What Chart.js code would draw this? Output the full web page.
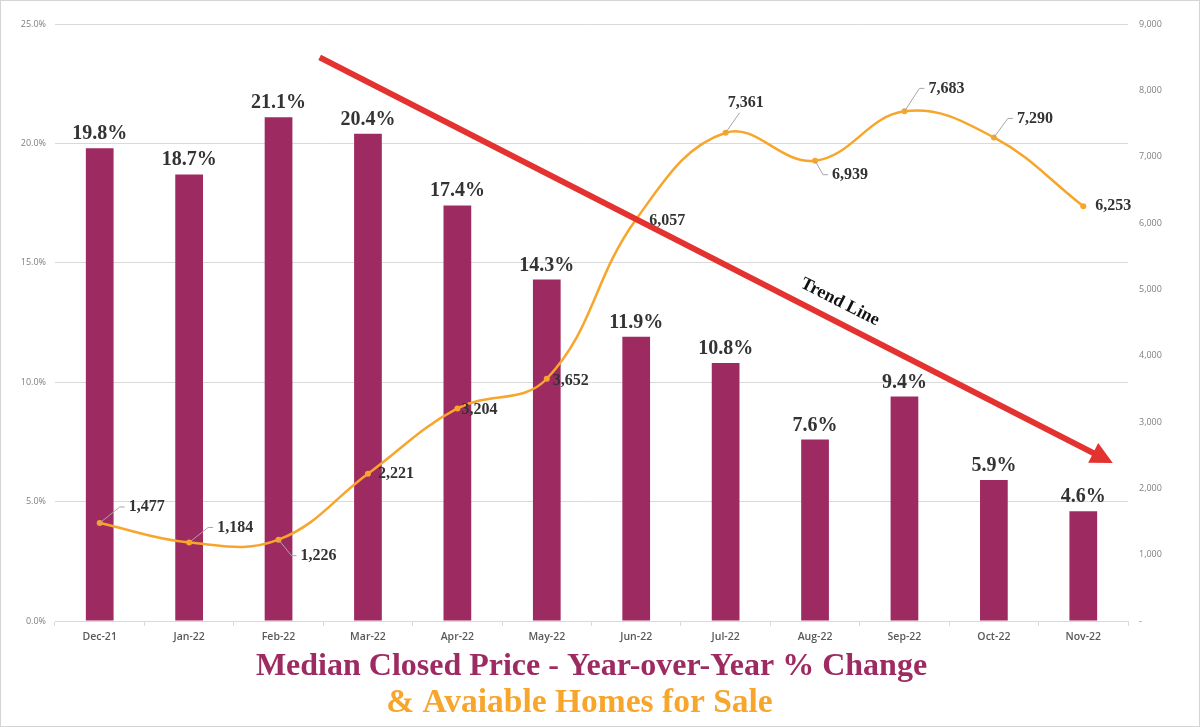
<!DOCTYPE html>
<html>
<head>
<meta charset="utf-8">
<script src="https://cdn.jsdelivr.net/npm/chart.js@4"></script>
<style>
  html, body { margin: 0; padding: 0; background: #fff; }
  #wrap { width: 1200px; height: 727px; }
</style>
</head>
<body>
<div id="wrap"><canvas id="chart" width="1200" height="727"></canvas></div>
<script>
// data
const months = ['Dec-21', 'Jan-22', 'Feb-22', 'Mar-22', 'Apr-22', 'May-22', 'Jun-22', 'Jul-22', 'Aug-22', 'Sep-22', 'Oct-22', 'Nov-22']
const priceChange = [19.8, 18.7, 21.1, 20.4, 17.4, 14.3, 11.9, 10.8, 7.6, 9.4, 5.9, 4.6]
const homesForSale = [1477, 1184, 1226, 2221, 3204, 3652, 6057, 7361, 6939, 7683, 7290, 6253]
const pctMax = 25
const pctStep = 5
const homesMax = 9000
const homesStep = 1000

// hand drawn trend arrow, in (month index, % change) units
const trendFrom = [2.46, 23.6]
const trendTo = [11.33, 6.62]

const maroon = '#9E2A62'
const orange = '#F7A52B'
const serif = '"Liberation Serif", "Times New Roman", serif'

// where each homes label sits relative to its point: [dx, dy, leader]
const homeLabelPos = [
  [47, -16, 'side'], [46, -15, 'side'], [40, 16, 'side'], [28, 0, ''],
  [22, 1, ''], [24, 2, ''], [31, 2, ''], [20, -30, 'under'],
  [35, 14, 'side'], [42, -23, 'side'], [41, -19, 'side'], [30, 0, '']
]

const extras = {
  id: 'extras',
  afterDatasetsDraw(chart) {
    const ctx = chart.ctx
    const x = chart.scales.x, y = chart.scales.y
    ctx.save()

    // trend arrow
    const x0 = x.getPixelForValue(trendFrom[0]), y0 = y.getPixelForValue(trendFrom[1])
    const x1 = x.getPixelForValue(trendTo[0]), y1 = y.getPixelForValue(trendTo[1])
    const ang = Math.atan2(y1 - y0, x1 - x0)
    const head = 22, half = 11
    const bx = x1 - Math.cos(ang) * head, by = y1 - Math.sin(ang) * head
    ctx.strokeStyle = '#E3322F'
    ctx.fillStyle = '#E3322F'
    ctx.lineWidth = 6
    ctx.beginPath()
    ctx.moveTo(x0, y0)
    ctx.lineTo(bx + Math.cos(ang) * 2, by + Math.sin(ang) * 2)
    ctx.stroke()
    ctx.beginPath()
    ctx.moveTo(x1, y1)
    ctx.lineTo(bx + Math.sin(ang) * half, by - Math.cos(ang) * half)
    ctx.lineTo(bx - Math.sin(ang) * half, by + Math.cos(ang) * half)
    ctx.closePath()
    ctx.fill()

    // "Trend Line" text along the arrow
    const t = 0.645
    const tx = x0 + (x1 - x0) * t + Math.sin(ang) * 19
    const ty = y0 + (y1 - y0) * t - Math.cos(ang) * 19
    ctx.translate(tx, ty)
    ctx.rotate(ang)
    ctx.fillStyle = '#111'
    ctx.font = 'bold 18px ' + serif
    ctx.textAlign = 'center'
    ctx.textBaseline = 'middle'
    ctx.fillText('Trend Line', 0, 0)
    ctx.setTransform(1, 0, 0, 1, 0, 0)
    ctx.restore()

    ctx.save()
    // bar labels
    const bars = chart.getDatasetMeta(0).data
    ctx.fillStyle = '#333'
    ctx.font = 'bold 20px ' + serif
    ctx.textAlign = 'center'
    ctx.textBaseline = 'alphabetic'
    bars.forEach((b, i) => {
      ctx.fillText(priceChange[i].toFixed(1) + '%', b.x, b.y - 9)
    })

    // homes labels with leader lines
    const pts = chart.getDatasetMeta(1).data
    ctx.font = 'bold 16px ' + serif
    ctx.textBaseline = 'middle'
    pts.forEach((p, i) => {
      const [dx, dy, leader] = homeLabelPos[i]
      const txt = homesForSale[i].toLocaleString('en-US')
      const w = ctx.measureText(txt).width
      const cx = p.x + dx, cy = p.y + dy
      ctx.strokeStyle = '#a6a6a6'
      ctx.lineWidth = 1
      if (leader === 'side') {
        const ex = cx - w / 2 - 4
        ctx.beginPath()
        ctx.moveTo(p.x, p.y)
        ctx.lineTo(ex - 5, cy)
        ctx.lineTo(ex, cy)
        ctx.stroke()
      } else if (leader === 'under') {
        ctx.beginPath()
        ctx.moveTo(p.x, p.y)
        ctx.lineTo(cx - w / 2 + 12, cy + 10)
        ctx.stroke()
      }
      ctx.fillStyle = '#333'
      ctx.fillText(txt, cx, cy)
    })
    ctx.restore()
  },
  afterDraw(chart) {
    const ctx = chart.ctx
    const area = chart.chartArea
    const mid = (area.left + area.right) / 2
    ctx.save()
    ctx.textAlign = 'center'
    ctx.textBaseline = 'alphabetic'
    ctx.fillStyle = maroon
    ctx.font = 'bold 32px ' + serif
    ctx.fillText('Median Closed Price - Year-over-Year % Change', mid, 675)
    ctx.fillStyle = orange
    ctx.font = 'bold 33.5px ' + serif
    ctx.fillText('& Avaiable Homes for Sale', mid - 12, 712)
    ctx.strokeStyle = '#d4d4d4'
    ctx.lineWidth = 1
    ctx.strokeRect(0.5, 0.5, chart.width - 1, chart.height - 1)
    ctx.restore()
  }
}

const tickFont = { family: '"Open Sans", "Liberation Sans", sans-serif', size: 9 }

new Chart(document.getElementById('chart'), {
  data: {
    labels: months,
    datasets: [{
      type: 'bar',
      label: 'Median Closed Price YoY % Change',
      data: priceChange,
      backgroundColor: maroon,
      barPercentage: 0.31,
      categoryPercentage: 1,
      yAxisID: 'y',
      order: 2
    }, {
      type: 'line',
      label: 'Available Homes for Sale',
      data: homesForSale,
      borderColor: orange,
      backgroundColor: orange,
      borderWidth: 2.5,
      tension: 0.4,
      pointRadius: 3,
      pointBorderWidth: 0,
      yAxisID: 'y1',
      order: 1
    }]
  },
  options: {
    responsive: false,
    animation: false,
    layout: { padding: { top: 24, left: 0, right: 0, bottom: 0 } },
    plugins: {
      legend: { display: false },
      tooltip: { enabled: false }
    },
    scales: {
      x: {
        offset: true,
        grid: { offset: true, drawOnChartArea: false, drawTicks: true, tickLength: 5, color: '#d9d9d9' },
        border: { color: '#d9d9d9' },
        ticks: {
          padding: 5,
          color: '#595959',
          font: { family: '"Open Sans", "Liberation Sans", sans-serif', size: 10.5, weight: 600 }
        },
        afterFit(s) { s.height = 106 }
      },
      y: {
        position: 'left',
        min: 0,
        max: pctMax,
        grid: { color: '#d9d9d9', drawTicks: false },
        border: { display: false },
        ticks: {
          stepSize: pctStep,
          padding: 9,
          color: '#7f7f7f',
          font: tickFont,
          callback: v => v.toFixed(1) + '%'
        },
        afterFit(s) { s.width = 55 }
      },
      y1: {
        position: 'right',
        min: 0,
        max: homesMax,
        grid: { display: false, drawTicks: false },
        border: { display: false },
        ticks: {
          stepSize: homesStep,
          padding: 11,
          color: '#7f7f7f',
          font: tickFont,
          callback: v => v === 0 ? '-' : v.toLocaleString('en-US')
        },
        afterFit(s) { s.width = 72 }
      }
    }
  },
  plugins: [extras]
})
</script>
</body>
</html>
